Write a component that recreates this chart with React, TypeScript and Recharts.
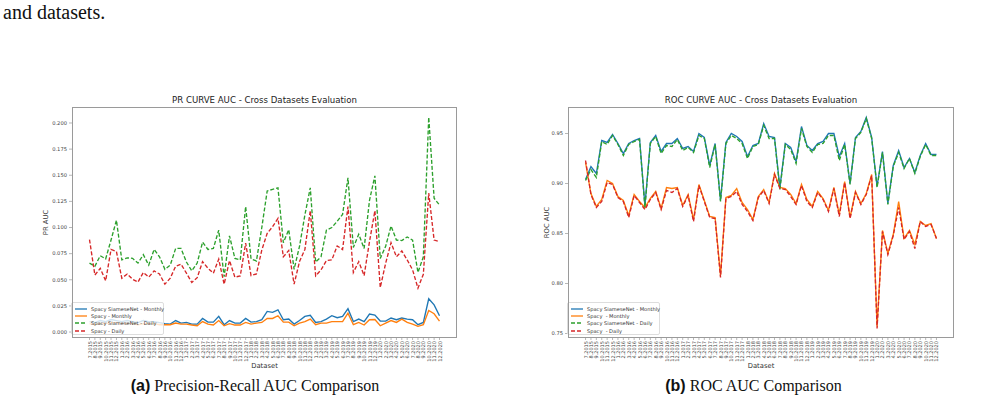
import React from 'react';
import { LineChart, Line, XAxis, YAxis, Legend } from 'recharts';

const monthLabels = [
  '7.2015', '8.2015', '9.2015', '10.2015', '11.2015', '12.2015',
  '1.2016', '2.2016', '3.2016', '4.2016', '5.2016', '6.2016', '7.2016', '8.2016', '9.2016', '10.2016', '11.2016', '12.2016',
  '1.2017', '2.2017', '3.2017', '4.2017', '5.2017', '6.2017', '7.2017', '8.2017', '9.2017', '10.2017', '11.2017', '12.2017',
  '1.2018', '2.2018', '3.2018', '4.2018', '5.2018', '6.2018', '7.2018', '8.2018', '9.2018', '10.2018', '11.2018', '12.2018',
  '1.2019', '2.2019', '3.2019', '4.2019', '5.2019', '6.2019', '7.2019', '8.2019', '9.2019', '10.2019', '11.2019', '12.2019',
  '1.2020', '2.2020', '3.2020', '4.2020', '5.2020', '6.2020', '7.2020', '8.2020', '9.2020', '10.2020', '11.2020', '12.2020',
];

// PR AUC
const prSiameseMonthly = [
  0.010, 0.009, 0.011, 0.010, 0.012, 0.011, 0.010, 0.011, 0.010, 0.009, 0.011, 0.010, 0.010, 0.009, 0.008,
  0.0076, 0.011, 0.0086, 0.0092, 0.0076, 0.0076, 0.013, 0.0095, 0.0095, 0.015, 0.007, 0.011, 0.0086, 0.0086, 0.013,
  0.0095, 0.010, 0.0118, 0.0197, 0.0188, 0.0213, 0.0118, 0.0124, 0.0076, 0.011, 0.015, 0.016, 0.0092, 0.010, 0.0124,
  0.0156, 0.0137, 0.015, 0.0223, 0.010, 0.0124, 0.010, 0.0172, 0.0162, 0.0105, 0.0105, 0.0134, 0.0118, 0.0134, 0.0124,
  0.0118, 0.007, 0.0092, 0.0318, 0.026, 0.0156,
];
const prSpacyMonthly = [
  0.008, 0.007, 0.008, 0.008, 0.009, 0.009, 0.008, 0.008, 0.008, 0.007, 0.008, 0.008, 0.008, 0.007, 0.007,
  0.007, 0.0086, 0.0076, 0.0076, 0.0067, 0.006, 0.010, 0.0076, 0.0067, 0.011, 0.006, 0.008, 0.0067, 0.0067, 0.0092,
  0.0076, 0.0086, 0.0092, 0.013, 0.013, 0.0156, 0.0095, 0.0095, 0.006, 0.0086, 0.010, 0.0124, 0.007, 0.0086, 0.0086,
  0.0099, 0.0099, 0.0099, 0.018, 0.007, 0.0092, 0.0067, 0.0118, 0.012, 0.006, 0.0086, 0.011, 0.0092, 0.0124, 0.0092,
  0.0076, 0.0054, 0.007, 0.0207, 0.0175, 0.0105,
];
const prSiameseDaily = [
  0.066, 0.063, 0.073, 0.070, 0.088, 0.107, 0.069, 0.071, 0.0705, 0.066, 0.074, 0.064, 0.079, 0.072, 0.060,
  0.064, 0.080, 0.080, 0.067, 0.0585, 0.066, 0.086, 0.079, 0.080, 0.0975, 0.053, 0.092, 0.0705, 0.069, 0.120,
  0.070, 0.068, 0.100, 0.135, 0.1365, 0.138, 0.0855, 0.098, 0.060, 0.082, 0.112, 0.138, 0.067, 0.072, 0.0975,
  0.100, 0.106, 0.1125, 0.1475, 0.081, 0.0935, 0.080, 0.126, 0.1495, 0.0705, 0.082, 0.1015, 0.088, 0.0875, 0.091,
  0.088, 0.057, 0.072, 0.2055, 0.128, 0.1215,
];
const prSpacyDaily = [
  0.0885, 0.0545, 0.061, 0.049, 0.079, 0.077, 0.0515, 0.0555, 0.0505, 0.0478,
  0.057, 0.0525, 0.0585, 0.0555, 0.0458, 0.0515, 0.063, 0.065, 0.0563, 0.0474,
  0.052, 0.0674, 0.061, 0.0563, 0.0697, 0.0458, 0.0684, 0.0525, 0.0537, 0.085,
  0.054, 0.0556, 0.0785, 0.0944, 0.1008, 0.1087, 0.072, 0.078, 0.0458, 0.0674,
  0.079, 0.116, 0.0537, 0.0595, 0.0684, 0.069, 0.0824, 0.079, 0.120, 0.057,
  0.0674, 0.054, 0.0865, 0.116, 0.0426, 0.0658, 0.0855, 0.072, 0.0776, 0.069,
  0.0595, 0.042, 0.0553, 0.133, 0.088, 0.0865,
];

// ROC AUC
const rocSiameseMonthly = [
  0.904, 0.917, 0.910, 0.943, 0.941, 0.949, 0.940, 0.930, 0.940, 0.943,
  0.945, 0.878, 0.941, 0.948, 0.932, 0.940, 0.940, 0.945, 0.935, 0.937,
  0.932, 0.950, 0.946, 0.918, 0.940, 0.883, 0.941, 0.950, 0.947, 0.942,
  0.927, 0.938, 0.940, 0.960, 0.947, 0.946, 0.896, 0.940, 0.936, 0.922,
  0.957, 0.938, 0.933, 0.940, 0.942, 0.950, 0.950, 0.927, 0.940, 0.900,
  0.946, 0.952, 0.966, 0.946, 0.897, 0.932, 0.880, 0.918, 0.933, 0.916,
  0.925, 0.911, 0.928, 0.940, 0.929, 0.929,
];
const rocSpacyMonthly = [
  0.921, 0.890, 0.877, 0.884, 0.903, 0.900, 0.887, 0.883, 0.868, 0.889,
  0.882, 0.876, 0.885, 0.892, 0.875, 0.896, 0.895, 0.896, 0.878, 0.889,
  0.864, 0.899, 0.883, 0.867, 0.866, 0.808, 0.886, 0.888, 0.895, 0.881,
  0.874, 0.864, 0.887, 0.894, 0.881, 0.910, 0.896, 0.895, 0.889, 0.880,
  0.899, 0.884, 0.877, 0.892, 0.885, 0.873, 0.896, 0.869, 0.902, 0.866,
  0.892, 0.880, 0.890, 0.909, 0.757, 0.853, 0.830, 0.849, 0.882, 0.845,
  0.853, 0.839, 0.862, 0.858, 0.860, 0.845,
];
const rocSiameseDaily = [
  0.903, 0.914, 0.906, 0.942, 0.939, 0.948, 0.939, 0.928, 0.939, 0.942,
  0.944, 0.876, 0.940, 0.947, 0.930, 0.938, 0.937, 0.944, 0.933, 0.936,
  0.931, 0.948, 0.945, 0.916, 0.939, 0.882, 0.940, 0.948, 0.945, 0.940,
  0.925, 0.937, 0.939, 0.958, 0.945, 0.945, 0.894, 0.939, 0.934, 0.920,
  0.955, 0.937, 0.931, 0.939, 0.940, 0.948, 0.948, 0.923, 0.939, 0.899,
  0.945, 0.951, 0.965, 0.945, 0.896, 0.931, 0.879, 0.917, 0.931, 0.915,
  0.925, 0.910, 0.927, 0.939, 0.928, 0.928,
];
const rocSpacyDaily = [
  0.923, 0.889, 0.876, 0.882, 0.901, 0.899, 0.886, 0.882, 0.866, 0.888,
  0.881, 0.874, 0.884, 0.891, 0.874, 0.893, 0.891, 0.895, 0.877, 0.888,
  0.862, 0.898, 0.882, 0.866, 0.865, 0.806, 0.885, 0.887, 0.892, 0.879,
  0.872, 0.863, 0.886, 0.893, 0.880, 0.909, 0.895, 0.894, 0.887, 0.879,
  0.898, 0.882, 0.876, 0.891, 0.884, 0.872, 0.895, 0.867, 0.901, 0.865,
  0.891, 0.879, 0.889, 0.908, 0.755, 0.852, 0.829, 0.848, 0.876, 0.844,
  0.852, 0.835, 0.862, 0.857, 0.859, 0.845,
];

const prTicks = [0, 0.025, 0.05, 0.075, 0.1, 0.125, 0.15, 0.175, 0.2];
const rocTicks = [0.75, 0.8, 0.85, 0.9, 0.95];

const prNames = ['Spacy SiameseNet - Monthly', 'Spacy - Monthly', 'Spacy SiameseNet - Daily', 'Spacy - Daily'];
const rocNames = ['Spacy SiameseNet - Monthly', 'Spacy  - Monthly', 'Spacy SiameseNet - Daily', 'Spacy  - Daily'];

const COLORS = ['#1f77b4', '#ff7f0e', '#2ca02c', '#d62728'];
const DASHED = [false, false, true, true];
const KEYS = ['sm', 'm', 'sd', 'd'];

const SANS = '"DejaVu Sans", sans-serif';

const buildRows = (a: number[], b: number[], c: number[], d: number[]) =>
  monthLabels.map((label, i) => ({ idx: i, label, sm: a[i], m: b[i], sd: c[i], d: d[i] }));

const prData = buildRows(prSiameseMonthly, prSpacyMonthly, prSiameseDaily, prSpacyDaily);
const rocData = buildRows(rocSiameseMonthly, rocSpacyMonthly, rocSiameseDaily, rocSpacyDaily);
const xTicks = monthLabels.map((_, i) => i);

const RotTick = (props: any) => {
  const { x, y, payload } = props;
  return (
    <text
      x={x}
      y={y}
      transform={`rotate(-90 ${x} ${y})`}
      textAnchor="end"
      dominantBaseline="central"
      fontSize={5}
      fill="#444"
      fontFamily={SANS}
    >
      {monthLabels[payload.value]}
    </text>
  );
};

const makeLegend = (names: string[]) => () => (
  <div
    style={{
      width: 93,
      height: 33,
      boxSizing: 'border-box',
      border: '1px solid #ddd',
      borderRadius: 2,
      background: 'rgba(255,255,255,0.8)',
      padding: '2px 0 0 2px',
      fontFamily: SANS,
      fontSize: 5.1,
      color: '#333',
    }}
  >
    {names.map((n, i) => (
      <div key={n} style={{ height: 7.4, display: 'flex', alignItems: 'center', whiteSpace: 'pre' }}>
        <svg width={14} height={6} style={{ marginRight: 3, flex: 'none' }}>
          <line x1={1} y1={3} x2={13} y2={3} stroke={COLORS[i]} strokeWidth={1.3} strokeDasharray={DASHED[i] ? '4 2' : undefined} />
        </svg>
        <span>{n}</span>
      </div>
    ))}
  </div>
);

type ChartProps = {
  left: number;
  data: any[];
  names: string[];
  domain: [number, number];
  ticks: number[];
  digits: number;
  yLabel: string;
  yLabelX: number;
  title: string;
  plotWidth: number;
};

const CHART_TOP = 90;
const Y_AXIS_W = 72;
const PLOT_TOP = 17;
const PLOT_H = 231;
const X_AXIS_H = 42;

function EvalChart(p: ChartProps) {
  const width = Y_AXIS_W + p.plotWidth + 12;
  const height = PLOT_TOP + PLOT_H + X_AXIS_H;
  return (
    <div style={{ position: 'absolute', left: p.left, top: CHART_TOP, width, height }}>
      <div
        style={{
          position: 'absolute',
          left: Y_AXIS_W,
          top: 5,
          width: p.plotWidth,
          textAlign: 'center',
          fontFamily: SANS,
          fontSize: 8.6,
          lineHeight: '11px',
          color: '#222',
        }}
      >
        {p.title}
      </div>
      <LineChart width={width} height={height} data={p.data} margin={{ top: PLOT_TOP, right: 12, bottom: 0, left: 0 }}>
        <XAxis
          dataKey="idx"
          type="number"
          domain={[-3.25, 68.25]}
          ticks={xTicks}
          interval={0}
          height={X_AXIS_H}
          axisLine={false}
          tickLine={{ stroke: '#888', strokeWidth: 0.6 }}
          tickSize={2}
          tickMargin={1}
          tick={<RotTick />}
          label={(lp: any) => {
            const vb = lp.viewBox || {};
            return (
              <text
                x={vb.x + vb.width / 2}
                y={vb.y + 28}
                textAnchor="middle"
                dominantBaseline="central"
                fontSize={6.8}
                fontFamily={SANS}
                fill="#333"
              >
                Dataset
              </text>
            );
          }}
        />
        <YAxis
          type="number"
          domain={p.domain}
          allowDataOverflow
          ticks={p.ticks}
          width={Y_AXIS_W}
          axisLine={false}
          tickLine={{ stroke: '#888', strokeWidth: 0.6 }}
          tickSize={3}
          tickMargin={2}
          tickFormatter={(v: number) => v.toFixed(p.digits)}
          tick={{ fontSize: 5.2, fill: '#444', fontFamily: SANS }}
          label={(lp: any) => {
            const vb = lp.viewBox || {};
            const cy = vb.y + vb.height / 2;
            return (
              <text
                x={p.yLabelX}
                y={cy}
                transform={`rotate(-90 ${p.yLabelX} ${cy})`}
                textAnchor="middle"
                dominantBaseline="central"
                fontSize={6.8}
                fontFamily={SANS}
                fill="#333"
              >
                {p.yLabel}
              </text>
            );
          }}
        />
        {KEYS.map((k, i) => (
          <Line
            key={k}
            type="linear"
            dataKey={k}
            name={p.names[i]}
            stroke={COLORS[i]}
            strokeWidth={1.35}
            strokeDasharray={DASHED[i] ? '4 2' : undefined}
            dot={false}
            activeDot={false}
            isAnimationActive={false}
          />
        ))}
        <Legend
          layout="horizontal"
          verticalAlign="middle"
          align="center"
          content={makeLegend(p.names)}
          wrapperStyle={{ position: 'absolute', left: Y_AXIS_W - 1, top: 212, width: 93, height: 33, margin: 0 }}
        />
      </LineChart>
      <div
        style={{
          position: 'absolute',
          left: Y_AXIS_W,
          top: PLOT_TOP,
          width: p.plotWidth,
          height: PLOT_H,
          boxSizing: 'border-box',
          border: '1px solid #9a9a9a',
          pointerEvents: 'none',
        }}
      />
    </div>
  );
}

export default function App() {
  return (
    <div
      style={{
        position: 'absolute',
        left: 0,
        top: 0,
        width: 1001,
        height: 415,
        overflow: 'hidden',
        background: '#fff',
        fontFamily: '"Liberation Serif", "Times New Roman", serif',
        color: '#111',
      }}
    >
      <div style={{ position: 'absolute', left: 3, top: 1, fontSize: 20, lineHeight: '22px' }}>and datasets.</div>

      <EvalChart
        left={0}
        data={prData}
        names={prNames}
        domain={[-0.0057, 0.2153]}
        ticks={prTicks}
        digits={3}
        yLabel="PR AUC"
        yLabelX={46}
        title="PR CURVE AUC - Cross Datasets Evaluation"
        plotWidth={385}
      />
      <EvalChart
        left={496}
        data={rocData}
        names={rocNames}
        domain={[0.7455, 0.9765]}
        ticks={rocTicks}
        digits={2}
        yLabel="ROC AUC"
        yLabelX={51}
        title="ROC CURVE AUC - Cross Datasets Evaluation"
        plotWidth={386}
      />

      <div style={{ position: 'absolute', left: 0, width: 510, top: 377, textAlign: 'center', fontSize: 16, lineHeight: '18px' }}>
        <span style={{ fontFamily: '"Liberation Sans", Arial, sans-serif', fontWeight: 'bold' }}>(a)</span> Precision-Recall AUC Comparison
      </div>
      <div style={{ position: 'absolute', left: 500, width: 507, top: 377, textAlign: 'center', fontSize: 16, lineHeight: '18px' }}>
        <span style={{ fontFamily: '"Liberation Sans", Arial, sans-serif', fontWeight: 'bold' }}>(b)</span> ROC AUC Comparison
      </div>

      <div style={{ position: 'absolute', left: 3, top: 413, fontSize: 17, lineHeight: '17px', whiteSpace: 'nowrap' }}>
        Figure 3: ROC and Precision-Recall AUC results of the daily and monthly cross-dataset evaluation for the Spacy and Spacy SiameseNet models.
      </div>
    </div>
  );
}
